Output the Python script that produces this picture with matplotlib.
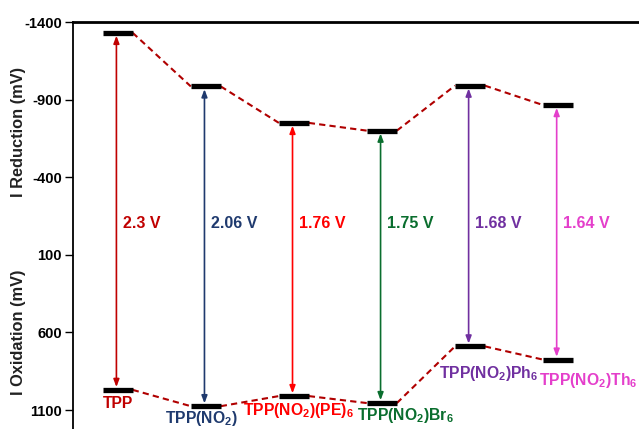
import numpy as np
import matplotlib.pyplot as plt

plt.rcParams['font.family'] = ['Liberation Sans', 'DejaVu Sans']
plt.rcParams['font.weight'] = 'bold'
plt.rcParams['mathtext.fontset'] = 'custom'
plt.rcParams['mathtext.default'] = 'bf'
plt.rcParams['mathtext.bf'] = 'Liberation Sans:bold'
plt.rcParams['mathtext.rm'] = 'Liberation Sans:bold'

# Data (mV)
names = ['TPP', r'TPP(NO$_2$)', r'TPP(NO$_2$)(PE)$_6$', r'TPP(NO$_2$)Br$_6$',
         r'TPP(NO$_2$)Ph$_6$', r'TPP(NO$_2$)Th$_6$']
reduction = [-1330, -985, -750, -700, -990, -865]
oxidation = [970, 1075, 1010, 1055, 690, 775]
gaps = ['2.3 V', '2.06 V', '1.76 V', '1.75 V', '1.68 V', '1.64 V']
colors = ['#C00000', '#1F3A6E', '#FF0000', '#0A6E2E', '#7030A0', '#E43FCB']
yticks = [-1400, -900, -400, 100, 600, 1100]

# layout of the compound labels (offset from bar centre / bottom level)
label_dx = [0.0, -0.05, 0.05, 0.27, 0.21, 0.34]
label_dy = [85, 77, 90, 83, 172, 132]

x = np.arange(len(names))
half = 0.17

fig = plt.figure(figsize=(6.39, 4.29), dpi=100)
ax = fig.add_axes([73 / 639, 0, 1 - 73 / 639, 1 - 22 / 429])
ax.set_xlim(-0.508, 5.92)
ax.set_ylim(1222, -1400)

# dashed connectors
for lev in (reduction, oxidation):
    for i in range(len(x) - 1):
        ax.plot([x[i] + half, x[i + 1] - half], [lev[i], lev[i + 1]],
                ls=(0, (3, 2)), color='#B00000', lw=1.5, zorder=1)

# energy levels
ax.hlines(reduction, x - half, x + half, color='black', lw=3.8, zorder=3)
ax.hlines(oxidation, x - half, x + half, color='black', lw=3.8, zorder=3)

for i in range(len(x)):
    ax.annotate('', xy=(x[i] - 0.015, reduction[i] + 18),
                xytext=(x[i] - 0.015, oxidation[i] - 18),
                arrowprops=dict(arrowstyle='<|-|>,head_length=0.45,head_width=0.17',
                                color=colors[i], lw=1.2, shrinkA=0, shrinkB=0))
    ax.text(x[i] + 0.06, -100, gaps[i], color=colors[i], fontsize=11.5,
            fontweight='bold', ha='left', va='center')
    ax.text(x[i] + label_dx[i], oxidation[i] + label_dy[i], names[i],
            color=colors[i], fontsize=11.3, fontweight='bold',
            ha='center', va='center')

ax.set_yticks(yticks)
ax.set_yticklabels([str(v) for v in yticks], fontsize=10.5, fontweight='bold')
ax.set_xticks([])
ax.tick_params(axis='y', direction='out', length=6, width=1, pad=2)
ax.spines['right'].set_visible(False)
ax.spines['bottom'].set_visible(False)
ax.spines['top'].set_linewidth(2)
ax.spines['left'].set_linewidth(1.3)

tr = ax.get_yaxis_transform()
ax.text(-0.097, -690, 'I Reduction (mV)', transform=tr, rotation=90,
        ha='center', va='center', fontsize=11.8, fontweight='bold', color='#222222')
ax.text(-0.097, 600, 'I Oxidation (mV)', transform=tr, rotation=90,
        ha='center', va='center', fontsize=11.8, fontweight='bold', color='#222222')

fig.savefig('out.png', dpi=100)
